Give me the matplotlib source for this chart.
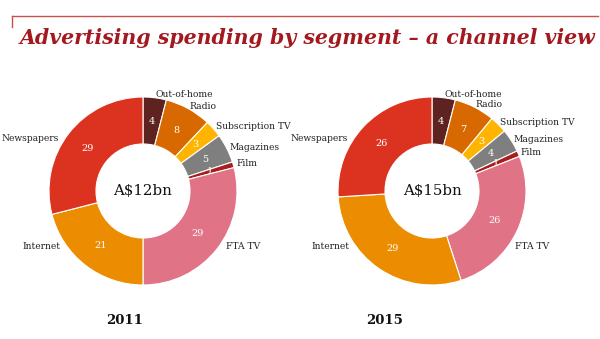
import matplotlib
matplotlib.use("Agg")
import matplotlib.pyplot as plt
import numpy as np

# Segment data (share of spending, %)
segments = ["Out-of-home", "Radio", "Subscription TV", "Magazines", "Film",
            "FTA TV", "Internet", "Newspapers"]
share_2011 = [4, 8, 3, 5, 1, 29, 21, 29]
share_2015 = [4, 7, 3, 4, 1, 26, 29, 26]
totals = ["A$12bn", "A$15bn"]
years = ["2011", "2015"]

colors = ["#5e2320", "#d86800", "#ffb400", "#7f7f7f", "#a81e1e",
          "#e07386", "#ec8c00", "#dc3220"]

# Label anchor angles for the large segments (degrees, 0 = right, ccw)
fixed_label_angle = {"FTA TV": -34, "Internet": -146, "Newspapers": 148}

SERIF = ["DejaVu Serif"]
W, H = 600, 339
fig = plt.figure(figsize=(W / 100, H / 100), dpi=100)

# Title rule and title
fig.add_artist(plt.Line2D([12 / W, 598 / W], [1 - 16 / H, 1 - 16 / H],
                          color="#c8504a", lw=1.0))
fig.add_artist(plt.Line2D([12 / W, 12 / W], [1 - 16 / H, 1 - 27 / H],
                          color="#c8504a", lw=1.0))
fig.text(20 / W, 1 - 38 / H, "Advertising spending by segment \u2013 a channel view",
         family=SERIF, style="italic", weight="bold", size=14.8,
         color="#a3191f", ha="left", va="center")

R_PX = 94
LIM = 1.6


def donut(cx, cy, values, total, year, year_x):
    side = 2 * R_PX * LIM
    ax = fig.add_axes([(cx - side / 2) / W, (H - cy - side / 2) / H, side / W, side / H])
    ax.pie(values, colors=colors, startangle=90, counterclock=False,
           radius=1.0, wedgeprops=dict(width=0.5, edgecolor="white", linewidth=0.8))
    ax.set_xlim(-LIM, LIM)
    ax.set_ylim(-LIM, LIM)
    ax.set_aspect("equal")
    ax.axis("off")
    total_v = sum(values)
    cum = 0
    for name, v in zip(segments, values):
        mid = 90 - 360 * (cum + v / 2) / total_v
        cum += v
        a = np.deg2rad(mid)
        # value inside ring
        ax.text(0.74 * np.cos(a), 0.74 * np.sin(a), str(v), color="white",
                family=SERIF, size=7, ha="center", va="center")
        la = np.deg2rad(fixed_label_angle.get(name, mid))
        r = 1.06 if name in fixed_label_angle else 1.03
        x, y = r * np.cos(la), r * np.sin(la)
        ha = "left" if np.cos(la) > 0 else "right"
        ax.text(x, y, name, family=SERIF, size=6.6, color="#222222",
                ha=ha, va="center", clip_on=False)
    ax.text(0, 0, total, family=SERIF, size=10.8, color="#111111",
            ha="center", va="center")
    fig.text(year_x / W, 1 - 320 / H, year, family=SERIF, weight="bold",
             size=9.5, color="#111111", ha="center", va="center")


donut(143, 191, share_2011, totals[0], years[0], 125)
donut(432, 191, share_2015, totals[1], years[1], 385)

fig.savefig("out.png", dpi=100)
